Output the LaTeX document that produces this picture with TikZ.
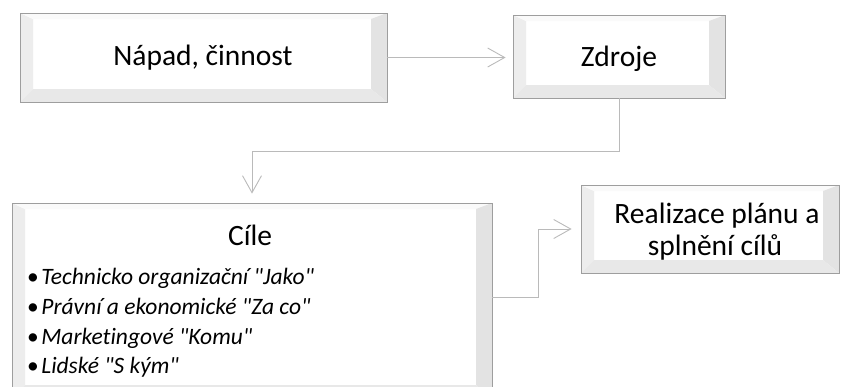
\documentclass[tikz,border=0pt]{standalone}
\usepackage{fontspec}
\setmainfont{Carlito}[Ligatures={TeXOff,CommonOff}]
\usetikzlibrary{arrows.meta}
\newcommand{\qq}{\symbol{34}}
\begin{document}
\begin{tikzpicture}[x=1pt,y=-1pt,
  bevbox/.style={draw=black!38, line width=0.8pt, fill=white, inner sep=0pt,
    path picture={
      \coordinate (pa) at (path picture bounding box.south west);
      \coordinate (pb) at (path picture bounding box.north east);
      \coordinate (pc) at (pa|-pb);
      \coordinate (pd) at (pa-|pb);
      \coordinate (qa) at ([shift={(13pt,13pt)}]pa);
      \coordinate (qb) at ([shift={(-16pt,-6pt)}]pb);
      \coordinate (qc) at ([shift={(13pt,-6pt)}]pc);
      \coordinate (qd) at ([shift={(-16pt,13pt)}]pd);
      \fill[black!7] (pa) -- (pc) -- (qc) -- (qa) -- cycle;
      \fill[black!2] (pc) -- (pb) -- (qb) -- (qc) -- cycle;
      \fill[black!11] (pb) -- (pd) -- (qd) -- (qb) -- cycle;
      \fill[black!9] (pd) -- (pa) -- (qa) -- (qd) -- cycle;
    }},
  conn/.style={draw=black!27, line width=0.9pt},
  arr/.style={-{Straight Barb[length=17pt,width=19pt,line width=0.9pt]}},
  big/.style={font=\fontsize{29.5}{34}\selectfont, inner sep=0pt, anchor=base},
  item/.style={font=\fontsize{23.5}{29}\selectfont, inner sep=0pt, anchor=base west}
]
\useasboundingbox (0,0) rectangle (844,386);

% boxes
\node[bevbox, minimum width=367pt, minimum height=89pt] (napad) at (203.5,57.5) {};
\node[bevbox, minimum width=212pt, minimum height=83pt] (zdroje) at (619,56.5) {};
\node[bevbox, minimum width=480pt, minimum height=195pt] (cile) at (252,300.5) {};
\node[bevbox, minimum width=258pt, minimum height=88pt] (real) at (710,229) {};

% texts
\node[big] (tnapad) at (203,65.5) {Nápad, činnost};
\node[big] (tzdroje) at (619,66) {Zdroje};
\node[big] (tcile) at (250,245) {Cíle};
\node[big] (treal1) at (717,223) {Realizace plánu a};
\node[big] (treal2) at (715,255) {splnění cílů};
\node[item] (b1) at (27,284) {•\hspace{2.5pt}\textit{Technicko organizační \qq Jako\qq}};
\node[item] (b2) at (27,314) {•\hspace{2.5pt}\textit{Právní a ekonomické \qq Za co\qq}};
\node[item] (b3) at (27,344) {•\hspace{2.5pt}\textit{Marketingové \qq Komu\qq}};
\node[item] (b4) at (27,373) {•\hspace{2.5pt}\textit{Lidské \qq S kým\qq}};

% connectors
\draw[conn,arr,shorten >=7pt] (napad.east) -- (napad.east -| zdroje.west);
\draw[conn,arr,shorten >=9pt] (zdroje.south) -- ++(0,53) -| (cile.north);
\draw[conn,arr,shorten >=9pt] (cile.east |- 0,297) -- ++(46,0) |- (real.west);
\end{tikzpicture}
\end{document}
